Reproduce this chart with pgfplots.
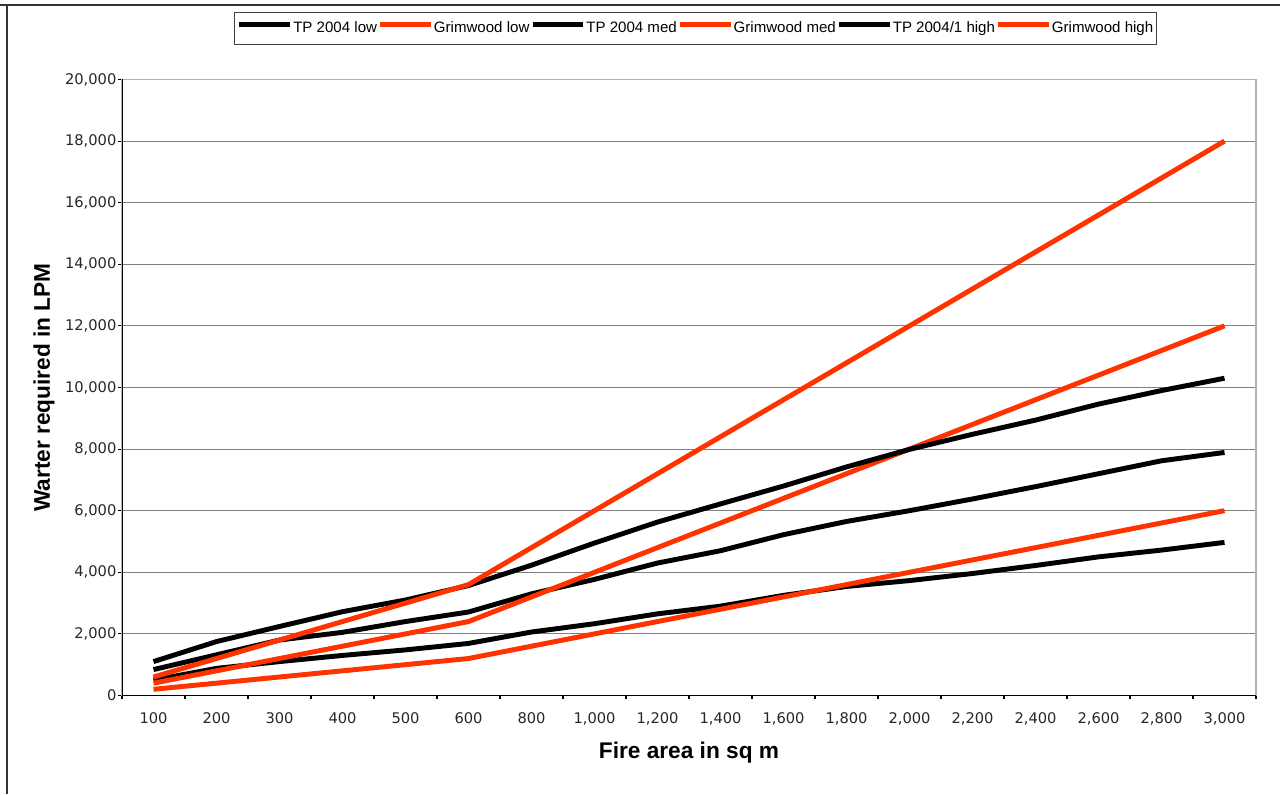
\documentclass[border=0pt]{standalone}
\usepackage{fontspec}
\setmainfont{Liberation Sans}
\newfontfamily\tickfont{DejaVu Sans}
\usepackage{pgfplots}
\pgfplotsset{compat=1.18}
\definecolor{grimred}{RGB}{255,51,0}

\begin{document}
\begin{tikzpicture}
\useasboundingbox (0,0) rectangle (960pt,595.5pt);
% outer chart frame (only top and left edges are inside the picture)
\draw[black!80, line width=1.5pt] (0,591.75pt) -- (960pt,591.75pt);
\draw[black!80, line width=1.5pt] (5.25pt,591.75pt) -- (5.25pt,0);
\begin{axis}[
  at={(91.5pt,73.9pt)}, anchor=south west,
  scale only axis, width=850.5pt, height=462pt,
  xmin=-0.5, xmax=17.5, ymin=0, ymax=20000,
  xtick={-0.5,0.5,1.5,2.5,3.5,4.5,5.5,6.5,7.5,8.5,9.5,10.5,11.5,12.5,13.5,14.5,15.5,16.5,17.5},
  xticklabels={100,200,300,400,500,600,800,{1,000},{1,200},{1,400},{1,600},{1,800},{2,000},{2,200},{2,400},{2,600},{2,800},{3,000},{}},
  xticklabel style={xshift=23.625pt, yshift=-6pt},
  ytick={0,2000,...,20000},
  scaled y ticks=false,
  yticklabel style={/pgf/number format/1000 sep={,}, inner xsep=1pt},
  /pgf/number format/assume math mode=true,
  ticklabel style={font=\tickfont\fontsize{11}{13}\selectfont, text=black!85},
  tick pos=left, tick align=outside, major tick length=3pt,
  tick style={black, line width=0.8pt},
  ymajorgrids, grid style={black!50, line width=0.8pt},
  axis line style={draw=black!30, line width=0.8pt},
  xlabel={Fire area in sq m},
  xlabel style={font=\bfseries\fontsize{17}{20}\selectfont, at={(axis description cs:0.5,-0.1015)}, anchor=base},
  ylabel={Warter required in LPM},
  ylabel style={font=\bfseries\fontsize{17}{20}\selectfont, at={(axis description cs:-0.0635,0.5)}, anchor=base},
  legend columns=6,
  legend image code/.code={\draw[#1] (0pt,0.3em) -- (38pt,0.3em);},
  legend style={at={(axis description cs:0.5057,1.1096)}, anchor=north,
    draw=black!75, line width=0.9pt, font=\fontsize{11.3}{13}\selectfont,
    inner xsep=2pt, inner ysep=5pt,
    nodes={inner xsep=0.5pt},
    /tikz/every even column/.append style={column sep=0pt}},
]
\draw[black, line width=0.9pt] (rel axis cs:0,1) -- (rel axis cs:0,0) -- (rel axis cs:1,0);

\addplot[black, line width=3.7pt] coordinates {
  (0,500)(1,880)(2,1100)(3,1300)(4,1480)(5,1690)(6,2060)(7,2330)(8,2650)
  (9,2900)(10,3250)(11,3540)(12,3730)(13,3960)(14,4220)(15,4500)(16,4720)(17,4970)};
\addlegendentry{TP 2004 low}

\addplot[grimred, line width=3.7pt] coordinates {
  (0,200)(1,400)(2,600)(3,800)(4,1000)(5,1200)(6,1600)(7,2000)(8,2400)
  (9,2800)(10,3200)(11,3600)(12,4000)(13,4400)(14,4800)(15,5200)(16,5600)(17,6000)};
\addlegendentry{Grimwood low}

\addplot[black, line width=3.7pt] coordinates {
  (0,840)(1,1320)(2,1800)(3,2050)(4,2400)(5,2710)(6,3300)(7,3770)(8,4300)
  (9,4700)(10,5220)(11,5650)(12,6000)(13,6380)(14,6780)(15,7200)(16,7620)(17,7890)};
\addlegendentry{TP 2004 med}

\addplot[grimred, line width=3.7pt] coordinates {
  (0,400)(1,800)(2,1200)(3,1600)(4,2000)(5,2400)(6,3200)(7,4000)(8,4800)
  (9,5600)(10,6400)(11,7200)(12,8000)(13,8800)(14,9600)(15,10400)(16,11200)(17,12000)};
\addlegendentry{Grimwood med}

\addplot[black, line width=3.7pt] coordinates {
  (0,1100)(1,1750)(2,2240)(3,2720)(4,3100)(5,3570)(6,4230)(7,4950)(8,5630)
  (9,6220)(10,6800)(11,7420)(12,7990)(13,8480)(14,8940)(15,9460)(16,9900)(17,10300)};
\addlegendentry{TP 2004/1 high}

\addplot[grimred, line width=3.7pt] coordinates {
  (0,600)(1,1200)(2,1800)(3,2400)(4,3000)(5,3600)(6,4800)(7,6000)(8,7200)
  (9,8400)(10,9600)(11,10800)(12,12000)(13,13200)(14,14400)(15,15600)(16,16800)(17,18000)};
\addlegendentry{Grimwood high}
\end{axis}
\end{tikzpicture}
\end{document}
